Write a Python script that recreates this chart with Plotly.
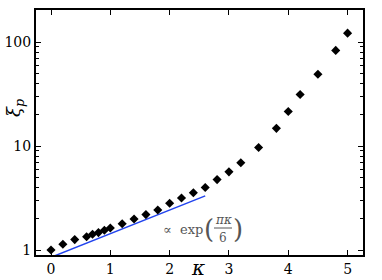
import numpy as np
import plotly.graph_objects as go

kappa = [0.0, 0.2, 0.4, 0.6, 0.7, 0.8, 0.9, 1.0, 1.2, 1.4, 1.6, 1.8, 2.0, 2.2, 2.4, 2.6,
         2.8, 3.0, 3.2, 3.5, 3.8, 4.0, 4.2, 4.5, 4.8, 5.0]
xi_p = [1.0, 1.135, 1.26, 1.34, 1.42, 1.47, 1.55, 1.63, 1.79, 1.99, 2.19, 2.43, 2.82, 3.17,
        3.55, 3.99, 4.76, 5.65, 6.9, 9.7, 14.8, 21.5, 31.3, 49.1, 83.2, 122.0]
x_ticks = [0, 1, 2, 3, 4, 5]
y_ticks = [1, 10, 100]
y_minor = [m * d for d in (1, 10, 100) for m in range(2, 10) if m * d <= 200]

fit_amp = 0.851
fit_kappa = np.linspace(0.0, 2.6, 60)
fit_vals = fit_amp * np.exp(np.pi * fit_kappa / 6)

serif = "DejaVu Serif"

fig = go.Figure()
fig.add_trace(go.Scatter(x=fit_kappa, y=fit_vals, mode="lines",
                         line=dict(color="#2244ee", width=1.5), showlegend=False))
fig.add_trace(go.Scatter(x=kappa, y=xi_p, mode="markers",
                         marker=dict(symbol="diamond", size=7, color="black"),
                         showlegend=False, cliponaxis=False))

axis_common = dict(showline=True, linewidth=2, linecolor="black", mirror="allticks",
                   ticks="inside", ticklen=5, tickwidth=1, tickcolor="black",
                   showgrid=False, zeroline=False, automargin=False,
                   tickfont=dict(family=serif, size=14, color="black"))

fig.update_xaxes(range=[-0.253, 5.26], tickvals=x_ticks, **axis_common)
fig.update_yaxes(type="log", range=[-0.048, 2.309], tickvals=y_ticks,
                 ticktext=[str(v) for v in y_ticks],
                 minor=dict(ticks="inside", ticklen=3, tickwidth=1, tickcolor="black",
                            tickvals=y_minor, showgrid=False),
                 **axis_common)

def px2paper(px, py):
    return (px - 36) / 327.0, (255 - py) / 245.0

anns = []
x, y = px2paper(198, 268)
anns.append(dict(x=x, y=y, text="<i>κ</i>", font=dict(family=serif, size=20, color="black")))
x, y = px2paper(15, 108)
anns.append(dict(x=x, y=y, text="<i>ξ<sub>p</sub></i>", textangle=-90,
                 font=dict(family=serif, size=18, color="black")))
grey = "#555555"
x, y = px2paper(183, 229)
anns.append(dict(x=x, y=y, text="∝  exp", font=dict(family=serif, size=13, color=grey)))
x, y = px2paper(209, 229)
anns.append(dict(x=x, y=y, text="(", font=dict(family=serif, size=26, color=grey)))
x, y = px2paper(238, 229)
anns.append(dict(x=x, y=y, text=")", font=dict(family=serif, size=26, color=grey)))
x, y = px2paper(223, 220)
anns.append(dict(x=x, y=y, text="<i>πκ</i>", font=dict(family=serif, size=12, color=grey)))
x, y = px2paper(223, 238)
anns.append(dict(x=x, y=y, text="6", font=dict(family=serif, size=12, color=grey)))
for a in anns:
    a.update(xref="paper", yref="paper", showarrow=False, xanchor="center", yanchor="middle")
fig.update_layout(annotations=anns)

x0, yl = px2paper(214, 228)
x1, _ = px2paper(232, 228)
fig.add_shape(type="line", xref="paper", yref="paper", x0=x0, x1=x1, y0=yl, y1=yl,
              line=dict(color=grey, width=1))

fig.update_layout(width=382, height=280, margin=dict(l=36, r=19, t=10, b=25),
                  plot_bgcolor="white", paper_bgcolor="white")

fig.write_html("out.html", config={"displayModeBar": False},
               post_script="document.body.style.margin='0';document.body.style.padding='0';")
